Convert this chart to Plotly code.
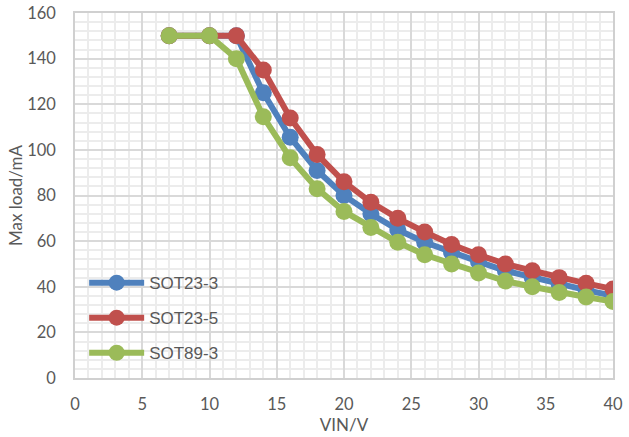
import plotly.graph_objects as go

vin = [7, 10, 12, 14, 16, 18, 20, 22, 24, 26, 28, 30, 32, 34, 36, 38, 40]
sot23_3 = [150, 150, 150, 125, 105.5, 91, 80, 72, 65, 59.5, 55, 51, 47, 44, 41, 38.5, 36]
sot23_5 = [150, 150, 150, 135, 114, 98, 86, 77, 70, 64, 58.5, 54, 50, 47, 44, 41.5, 39]
sot89_3 = [150, 150, 140, 114.5, 96.5, 83, 73, 66, 59.5, 54, 50, 46, 42.5, 40, 37.5, 35.5, 33.5]

series = [
    ("SOT23-3", sot23_3, "#4F81BD", "legend", 0.260),
    ("SOT23-5", sot23_5, "#C0504D", "legend2", 0.164),
    ("SOT89-3", sot89_3, "#9BBB59", "legend3", 0.068),
]

fig = go.Figure()
legend_font = dict(family="Liberation Sans, Arial, sans-serif", size=17, color="#595959")
for name, vals, col, lg, ly in series:
    fig.add_trace(go.Scatter(
        x=vin, y=vals, name=name, mode="lines+markers",
        line=dict(color=col, width=6),
        marker=dict(color=col, size=17),
        legend=lg, showlegend=True,
    ))
    fig.update_layout({lg: dict(
        x=0.017, y=ly, xanchor="left", yanchor="middle",
        bgcolor="rgba(255,255,255,0)", font=legend_font, itemwidth=55,
    )})

tickfont = dict(family="Lato, Open Sans, sans-serif", size=16.5, color="#595959")
titlefont = dict(family="Lato, sans-serif", size=17, color="#595959")
fig.update_layout(
    width=629, height=437, showlegend=True,
    margin=dict(l=75, r=16, t=13, b=59),
    paper_bgcolor="white", plot_bgcolor="white",
    font=dict(family="Lato, sans-serif", color="#595959"),
    xaxis=dict(
        range=[0, 40], dtick=5, tick0=0, automargin=False,
        showgrid=True, gridcolor="#d9d9d9", gridwidth=1.5,
        minor=dict(dtick=1, showgrid=True, gridcolor="#ececec", gridwidth=1.5),
        showline=True, linecolor="#d0d0d0", linewidth=1.5, mirror=True,
        zeroline=False, ticks="", tickfont=tickfont, ticklabelstandoff=10,
        title=dict(text="VIN/V", font=titlefont, standoff=4),
    ),
    yaxis=dict(
        range=[0, 160], dtick=20, tick0=0, automargin=False,
        showgrid=True, gridcolor="#d9d9d9", gridwidth=1.5,
        minor=dict(dtick=4, showgrid=True, gridcolor="#ececec", gridwidth=1.5),
        showline=True, linecolor="#d0d0d0", linewidth=1.5, mirror=True,
        zeroline=False, ticks="", tickfont=tickfont, ticklabelstandoff=14,
        title=dict(text="Max load/mA", font=titlefont, standoff=0),
    ),
)
fig.write_html("out.html")
